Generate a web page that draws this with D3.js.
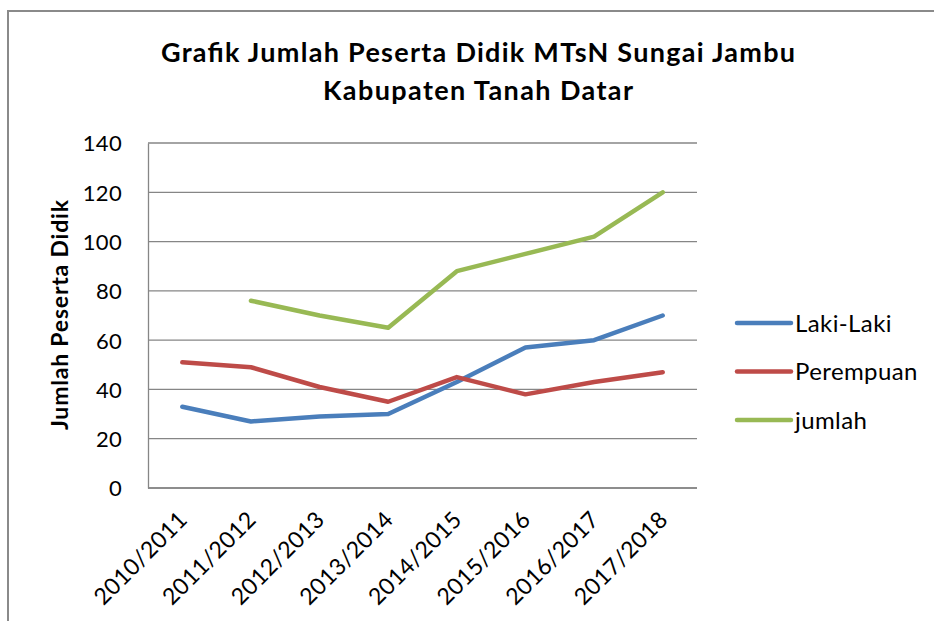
<!DOCTYPE html>
<html>
<head>
<meta charset="utf-8">
<script src="https://cdn.jsdelivr.net/npm/d3@7"></script>
<style>
  body { margin: 0; background: #fff; }
  text { font-family: Lato, "Open Sans", sans-serif; fill: #000; }
</style>
</head>
<body>
<div id="container"></div>
<script>
/* DATA */
const categories = ["2010/2011","2011/2012","2012/2013","2013/2014","2014/2015","2015/2016","2016/2017","2017/2018"];
const lakiLaki  = [33, 27, 29, 30, 43, 57, 60, 70];
const perempuan = [51, 49, 41, 35, 45, 38, 43, 47];
const jumlah    = [null, 76, 70, 65, 88, 95, 102, 120];
const yTicks = [0, 20, 40, 60, 80, 100, 120, 140];
const seriesNames = ["Laki-Laki", "Perempuan", "jumlah"];
const seriesColors = ["#4a7ebb", "#be4b48", "#98b954"];

/* CONSTANTS */
const width = 934, height = 621;
const plot = {left: 148, right: 697, top: 143, bottom: 488};

const svg = d3.select("#container").append("svg")
  .attr("width", width)
  .attr("height", height);

// chart area border (only left and top visible)
svg.append("path")
  .attr("d", "M8,621 L8,11 L934,11")
  .attr("fill", "none")
  .attr("stroke", "#8a8a8a")
  .attr("stroke-width", 2);

/* SCALES */
const xScale = d3.scalePoint()
  .domain(categories)
  .range([plot.left, plot.right])
  .padding(0.5);

const yScale = d3.scaleLinear()
  .domain([0, 140])
  .range([plot.bottom, plot.top]);

// gridlines
svg.append("g")
  .selectAll("line")
  .data(yTicks)
  .join("line")
  .attr("x1", plot.left)
  .attr("x2", plot.right)
  .attr("y1", d => yScale(d))
  .attr("y2", d => yScale(d))
  .attr("stroke", "#868686")
  .attr("stroke-width", 1.3);

// y axis
const yAxis = d3.axisLeft(yScale).tickValues(yTicks).tickSize(0).tickPadding(26);
const gy = svg.append("g").attr("transform", `translate(${plot.left},0)`).call(yAxis);
gy.select(".domain").attr("stroke", "#868686").attr("stroke-width", 1.3);
gy.selectAll("text").style("font-size", "22px").style("letter-spacing", "0.3px").attr("dy", "0.36em");

// x axis
const xAxis = d3.axisBottom(xScale).tickSize(0).tickPadding(0);
const gx = svg.append("g").attr("transform", `translate(0,${plot.bottom})`).call(xAxis);
gx.select(".domain").attr("d", `M${plot.left},0H${plot.right}`).attr("stroke", "#868686").attr("stroke-width", 1.3);
gx.selectAll("text")
  .style("font-size", "23px")
  .style("letter-spacing", "0.4px")
  .attr("text-anchor", "end")
  .attr("dy", null)
  .attr("y", null)
  .attr("transform", "translate(6,33) rotate(-45)");

/* LINES */
const allSeries = [lakiLaki, perempuan, jumlah];
const line = d3.line()
  .defined(d => d != null)
  .x((d, i) => xScale(categories[i]))
  .y(d => yScale(d));

svg.append("g")
  .selectAll("path")
  .data(allSeries)
  .join("path")
  .attr("d", d => line(d))
  .attr("fill", "none")
  .attr("stroke", (d, i) => seriesColors[i])
  .attr("stroke-width", 4.5)
  .attr("stroke-linecap", "round")
  .attr("stroke-linejoin", "round");

/* LEGEND */
const legend = svg.append("g").attr("transform", "translate(737,323)");
const items = legend.selectAll("g")
  .data(seriesNames)
  .join("g")
  .attr("transform", (d, i) => `translate(0,${i * 48.5})`);
items.append("line")
  .attr("x1", 0).attr("x2", 54)
  .attr("stroke", (d, i) => seriesColors[i])
  .attr("stroke-width", 4.5)
  .attr("stroke-linecap", "round");
items.append("text")
  .attr("x", 58)
  .attr("dy", "0.36em")
  .style("font-size", "24px")
  .style("letter-spacing", "0.4px")
  .text(d => d);

/* TITLES */
svg.append("text")
  .attr("x", 478).attr("y", 62)
  .attr("text-anchor", "middle")
  .attr("textLength", 634).attr("lengthAdjust", "spacing")
  .style("font-size", "27px").style("font-weight", "bold")
  .text("Grafik Jumlah Peserta Didik MTsN Sungai Jambu");
svg.append("text")
  .attr("x", 478).attr("y", 100)
  .attr("text-anchor", "middle")
  .attr("textLength", 310).attr("lengthAdjust", "spacing")
  .style("font-size", "27px").style("font-weight", "bold")
  .text("Kabupaten Tanah Datar");

svg.append("text")
  .attr("transform", "translate(68,315) rotate(-90)")
  .attr("text-anchor", "middle")
  .attr("textLength", 230).attr("lengthAdjust", "spacing")
  .style("font-size", "23px").style("font-weight", "bold")
  .text("Jumlah Peserta Didik");
</script>
</body>
</html>
